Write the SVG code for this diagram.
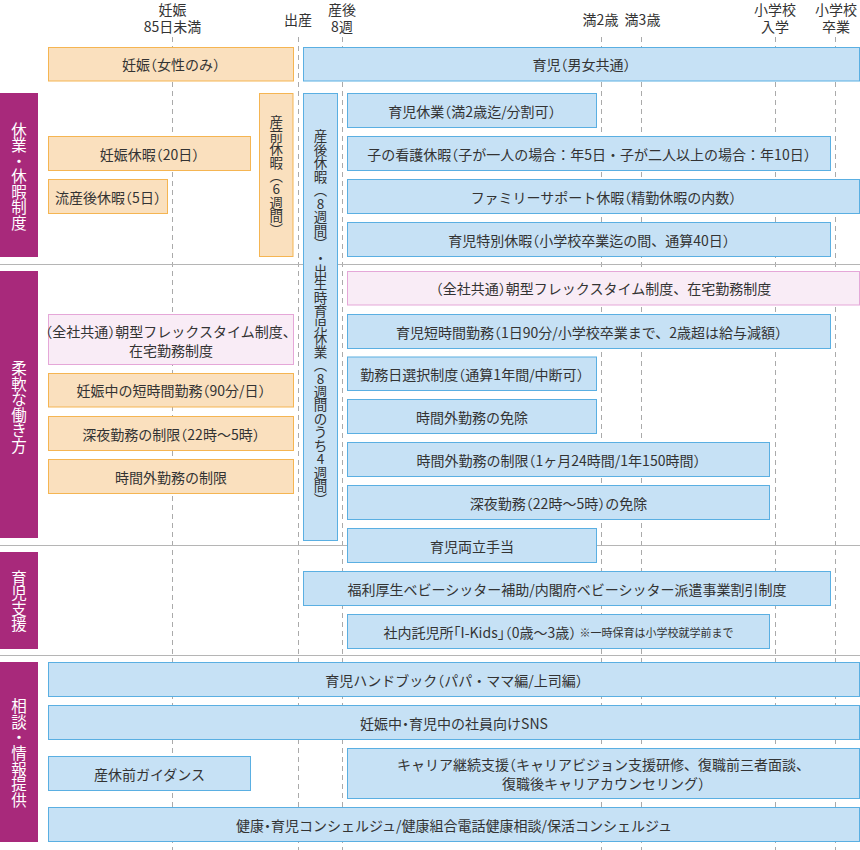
<svg xmlns="http://www.w3.org/2000/svg" width="860" height="850" viewBox="0 0 860 850">
<style>
text{font-family:"Noto Sans CJK JP","Noto Sans CJK SC",sans-serif;fill:#333;font-size:14px;}
.t{text-anchor:middle;dominant-baseline:central;}
.h{font-feature-settings:"halt";}
.hd{text-anchor:middle;font-size:14px;}
.cat{fill:#a8297b;}
.ct{fill:#fff;font-size:15.5px;text-anchor:middle;dominant-baseline:central;}
.vt{text-anchor:middle;dominant-baseline:central;font-size:13.5px;}
.o{fill:#fae0be;stroke:#f5b552;stroke-width:1;}
.b{fill:#c6e1f5;stroke:#5aafe2;stroke-width:1;}
.p{fill:#f9ecf6;stroke:#e5a7d8;stroke-width:1;}
.dash{stroke:#aaa;stroke-width:1;stroke-dasharray:5 4;fill:none;}
.sep{stroke:#b5b5b5;stroke-width:1;fill:none;}
</style>
<rect width="860" height="850" fill="#fff"/>
<g id="grid">
<path class="dash" d="M172.5 37V850M298.5 37V850M342.5 37V850M601.5 37V850M641.5 37V850M775.5 37V850M835.5 37V850"/>
<path class="sep" d="M0 264.5H860M0 545.5H860M0 655.5H860"/>
</g>
<g id="header">
<text class="hd" x="172.5" y="15"><tspan x="172.5" y="15">妊娠</tspan><tspan x="172.5" y="32">85日未満</tspan></text>
<text class="hd" x="298" y="25">出産</text>
<text class="hd" x="342" y="15"><tspan x="342" y="15">産後</tspan><tspan x="342" y="32">8週</tspan></text>
<text class="hd" x="600.5" y="24.5">満2歳</text>
<text class="hd" x="642.5" y="24.5">満3歳</text>
<text class="hd" x="775" y="15"><tspan x="775" y="15">小学校</tspan><tspan x="775" y="32">入学</tspan></text>
<text class="hd" x="836" y="15"><tspan x="836" y="15">小学校</tspan><tspan x="836" y="32">卒業</tspan></text>
</g>
<g id="categories">
<g id="cat1"><rect class="cat" x="0" y="93" width="38" height="164"/><text class="ct" x="19 19 19 19 19 19 19" y="128.5 144 159.5 175 190.5 206 221.5">休業・休暇制度</text></g>
<g id="cat2"><rect class="cat" x="0" y="271" width="38" height="267"/><text class="ct" x="19 19 19 19 19 19" y="367.3 382.8 398.3 413.8 429.3 444.8">柔軟な働き方</text></g>
<g id="cat3"><rect class="cat" x="0" y="552" width="38" height="97"/><text class="ct" x="19 19 19 19" y="576.8 592.3 607.8 623.3">育児支援</text></g>
<g id="cat4"><rect class="cat" x="0" y="662" width="38" height="180"/><text class="ct" x="19 19 19 19 19 19 19" y="705.2 720.8 736.4 752 767.6 783.2 798.8">相談・情報提供</text></g>
</g>
<g id="connectors"></g>
<g id="n-ninshin"><rect class="o" x="48.5" y="47.5" width="245" height="33.5"/><text class="t" x="171" y="64.3">妊娠<tspan class="h">（</tspan>女性のみ<tspan class="h">）</tspan></text></g>
<g id="n-ikuji"><rect class="b" x="303.5" y="47.5" width="556" height="33.5"/><text class="t" x="581.5" y="64.3">育児<tspan class="h">（</tspan>男女共通<tspan class="h">）</tspan></text></g>

<g id="n-sanzen"><rect class="o" x="259.5" y="93.5" width="33.5" height="163"/><text class="vt" x="276.3 276.3 276.3 276.3 276.3 276.3 276.3 276.3 276.3" y="121.4 134.8 148.2 161.6 175 188.4 201.8 215.2 228.6">産前休暇︵6週間︶</text></g>
<g id="n-sango"><rect class="b" x="303.5" y="93.5" width="34" height="447"/><text class="vt" x="320.5 320.5 320.5 320.5 320.5 320.5 320.5 320.5 320.5 320.5 320.5 320.5 320.5 320.5 320.5 320.5 320.5 320.5 320.5 320.5 320.5 320.5 320.5 320.5 320.5 320.5 320.5 320.5" y="135.4 148.9 162.3 175.8 189.2 202.7 216.1 229.6 243 256.5 269.9 283.4 296.8 310.3 323.7 337.2 350.6 364.1 377.5 391 404.4 417.9 431.3 444.8 458.2 471.7 485.1 498.6">産後休暇︵8週間︶・出生時育児休業︵8週間のうち4週間︶</text></g>
<g id="n-ninkyuka"><rect class="o" x="48.5" y="136.5" width="202" height="34"/><text class="t" x="149.5" y="153.5">妊娠休暇<tspan class="h">（</tspan>20日<tspan class="h">）</tspan></text></g>
<g id="n-ryuzan"><rect class="o" x="48.5" y="179.5" width="119" height="34"/><text class="t" x="108" y="196.5">流産後休暇<tspan class="h">（</tspan>5日<tspan class="h">）</tspan></text></g>
<g id="n-ikukyu"><rect class="b" x="347.5" y="93.5" width="249" height="34"/><text class="t" x="472" y="110.5">育児休業<tspan class="h">（</tspan>満2歳迄/分割可<tspan class="h">）</tspan></text></g>
<g id="n-kango"><rect class="b" x="347.5" y="136.5" width="483" height="34"/><text class="t" x="589" y="153.5">子の看護休暇<tspan class="h">（</tspan>子が一人の場合：年5日・子が二人以上の場合：年10日<tspan class="h">）</tspan></text></g>
<g id="n-family"><rect class="b" x="347.5" y="179.5" width="512" height="34"/><text class="t" x="603.5" y="196.5">ファミリーサポート休暇<tspan class="h">（</tspan>精勤休暇の内数<tspan class="h">）</tspan></text></g>
<g id="n-tokubetsu"><rect class="b" x="347.5" y="222.5" width="483" height="34"/><text class="t" x="589" y="239.5">育児特別休暇<tspan class="h">（</tspan>小学校卒業迄の間、通算40日<tspan class="h">）</tspan></text></g>

<g id="n-flexR"><rect class="p" x="347.5" y="271.5" width="512" height="33.5"/><text class="t" x="603.5" y="288.3"><tspan class="h">（</tspan>全社共通<tspan class="h">）</tspan>朝型フレックスタイム制度、在宅勤務制度</text></g>
<g id="n-tanjikan"><rect class="b" x="347.5" y="314.5" width="483" height="34"/><text class="t" x="589" y="331.5">育児短時間勤務<tspan class="h">（</tspan>1日90分/小学校卒業まで、2歳超は給与減額<tspan class="h">）</tspan></text></g>
<g id="n-kinmubi"><rect class="b" x="347.5" y="357" width="249" height="33.5"/><text class="t" x="472" y="373.8">勤務日選択制度<tspan class="h">（</tspan>通算1年間/中断可<tspan class="h">）</tspan></text></g>
<g id="n-menjo"><rect class="b" x="347.5" y="399.5" width="249" height="34"/><text class="t" x="472" y="416.5">時間外勤務の免除</text></g>
<g id="n-seigenR"><rect class="b" x="347.5" y="442.5" width="422" height="34"/><text class="t" x="558.5" y="459.5">時間外勤務の制限<tspan class="h">（</tspan>1ヶ月24時間/1年150時間<tspan class="h">）</tspan></text></g>
<g id="n-shinyaR"><rect class="b" x="347.5" y="485.5" width="422" height="34"/><text class="t" x="558.5" y="502.5">深夜勤務<tspan class="h">（</tspan>22時〜5時<tspan class="h">）</tspan>の免除</text></g>
<g id="n-ryoritsu"><rect class="b" x="347.5" y="528.5" width="249" height="34"/><text class="t" x="472" y="545.5">育児両立手当</text></g>
<g id="n-flexL"><rect class="p" x="48.5" y="314.5" width="245" height="50"/><text class="t" x="171" y="330.5"><tspan class="h">（</tspan>全社共通<tspan class="h">）</tspan>朝型フレックスタイム制度、</text><text class="t" x="171" y="349.5">在宅勤務制度</text></g>
<g id="n-ninshintan"><rect class="o" x="48.5" y="373.5" width="245" height="33.5"/><text class="t" x="171" y="390.3">妊娠中の短時間勤務<tspan class="h">（</tspan>90分/日<tspan class="h">）</tspan></text></g>
<g id="n-shinyaL"><rect class="o" x="48.5" y="416.5" width="245" height="34"/><text class="t" x="171" y="433.5">深夜勤務の制限<tspan class="h">（</tspan>22時〜5時<tspan class="h">）</tspan></text></g>
<g id="n-seigenL"><rect class="o" x="48.5" y="459.5" width="245" height="34"/><text class="t" x="171" y="476.5">時間外勤務の制限</text></g>

<g id="n-sitter"><rect class="b" x="303.5" y="571.5" width="527" height="34"/><text class="t" x="567" y="588.5">福利厚生ベビーシッター補助/内閣府ベビーシッター派遣事業割引制度</text></g>
<g id="n-takuji"><rect class="b" x="347.5" y="614.5" width="422" height="34"/><text class="t" x="558.5" y="631.5">社内託児所<tspan class="h">「</tspan>I-Kids<tspan class="h">」（</tspan>0歳〜3歳<tspan class="h">）</tspan> <tspan font-size="11">※一時保育は小学校就学前まで</tspan></text></g>

<g id="n-handbook"><rect class="b" x="48.5" y="662.5" width="811" height="34"/><text class="t" x="454" y="679.5">育児ハンドブック<tspan class="h">（</tspan>パパ・ママ編/上司編<tspan class="h">）</tspan></text></g>
<g id="n-sns"><rect class="b" x="48.5" y="705.5" width="811" height="34"/><text class="t" x="454" y="722.5">妊娠中<tspan class="h">・</tspan>育児中の社員向けSNS</text></g>
<g id="n-guidance"><rect class="b" x="48.5" y="756.5" width="202" height="34"/><text class="t" x="149.5" y="773.5">産休前ガイダンス</text></g>
<g id="n-career"><rect class="b" x="347.5" y="748.5" width="512" height="50"/><text class="t" x="603.5" y="764">キャリア継続支援<tspan class="h">（</tspan>キャリアビジョン支援研修、復職前三者面談、</text><text class="t" x="603.5" y="783">復職後キャリアカウンセリング<tspan class="h">）</tspan></text></g>
<g id="n-health"><rect class="b" x="48.5" y="807.5" width="811" height="34"/><text class="t" x="454" y="824.5">健康<tspan class="h">・</tspan>育児コンシェルジュ/健康組合電話健康相談/保活コンシェルジュ</text></g>
</svg>
